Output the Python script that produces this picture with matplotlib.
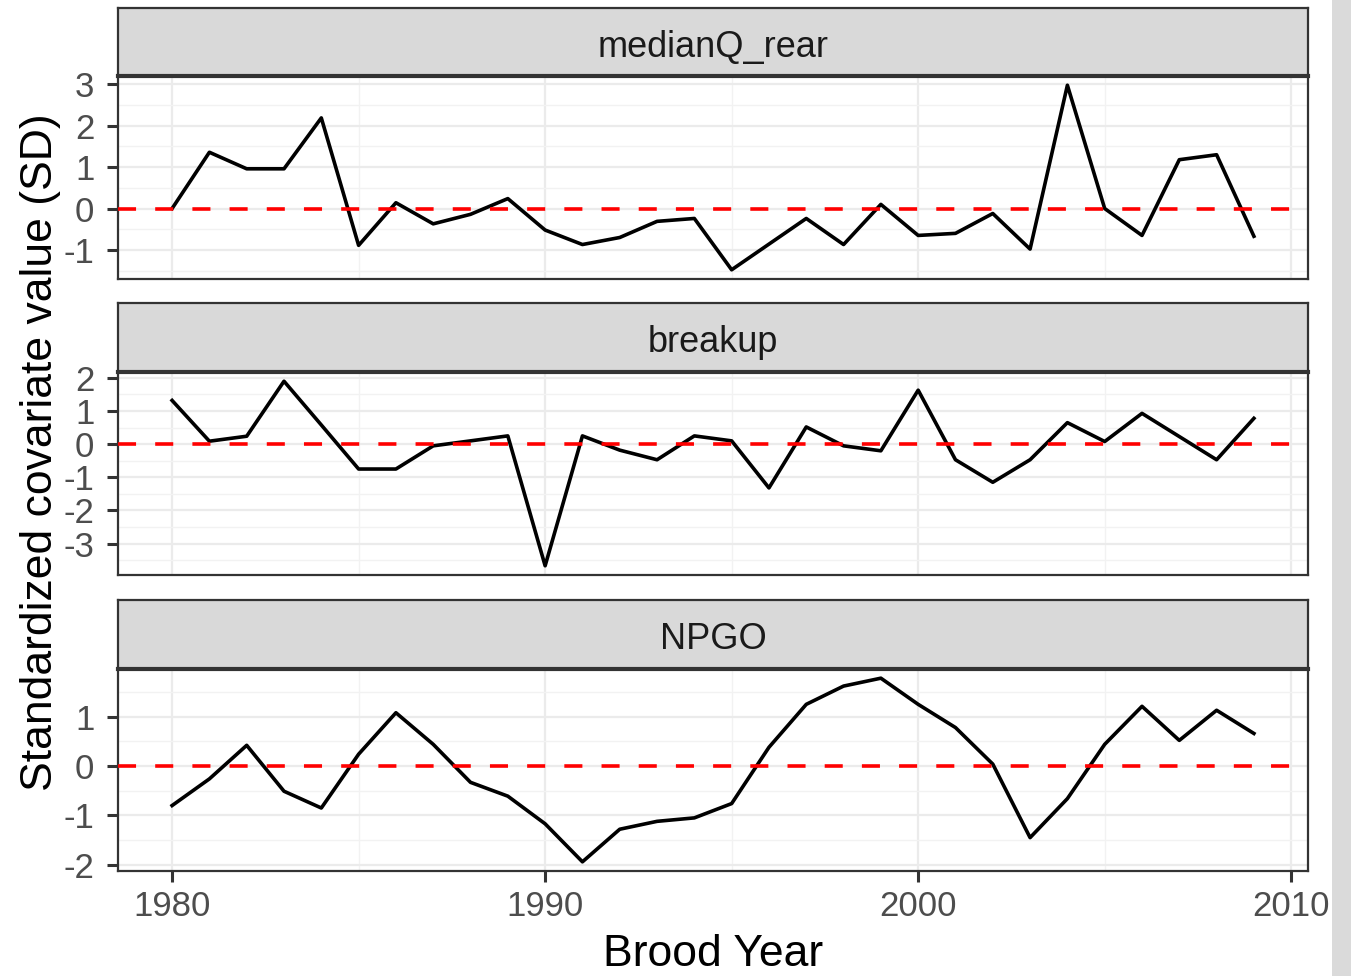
import numpy as np
import matplotlib.pyplot as plt
from matplotlib.patches import Rectangle

plt.rcParams['font.family'] = ['Liberation Sans', 'DejaVu Sans']
plt.rcParams['axes.unicode_minus'] = False

years = np.arange(1980, 2010)

# standardized covariates, one value per brood year
medianQ_rear = [0.0, 1.36, 0.96, 0.96, 2.19, -0.89, 0.14, -0.37, -0.14, 0.24,
                -0.52, -0.87, -0.70, -0.31, -0.24, -1.48, -0.86, -0.24, -0.87, 0.10,
                -0.65, -0.60, -0.12, -0.98, 2.98, 0.0, -0.65, 1.18, 1.30, -0.67]
breakup = [1.32, 0.09, 0.24, 1.90, 0.58, -0.75, -0.75, -0.05, 0.10, 0.25,
           -3.67, 0.25, -0.18, -0.47, 0.25, 0.10, -1.32, 0.52, -0.05, -0.20,
           1.63, -0.47, -1.15, -0.47, 0.65, 0.08, 0.93, 0.23, -0.47, 0.78]
NPGO = [-0.80, -0.26, 0.42, -0.51, -0.85, 0.24, 1.08, 0.44, -0.33, -0.61,
        -1.17, -1.94, -1.28, -1.12, -1.05, -0.76, 0.38, 1.25, 1.62, 1.78,
        1.25, 0.78, 0.04, -1.45, -0.66, 0.44, 1.21, 0.52, 1.13, 0.66]

panels = ["medianQ_rear", "breakup", "NPGO"]
series = [medianQ_rear, breakup, NPGO]
yticks = [[-1, 0, 1, 2, 3], [-3, -2, -1, 0, 1, 2], [-2, -1, 0, 1]]
xticks = [1980, 1990, 2000, 2010]

W, H = 1351, 976
fig = plt.figure(figsize=(W / 100, H / 100), dpi=100)
fig.patches.append(Rectangle((1332 / W, 0), (W - 1332) / W, 1, transform=fig.transFigure,
                             facecolor='#DADADA', edgecolor='none', zorder=0))

# pixel rows: (strip top, panel top, panel bottom)
rows = [(8, 76, 279), (303, 372, 575), (600, 669, 871)]
left, right = 118 / W, 1308 / W

dark = '#333333'
for i, (name, vals, yt) in enumerate(zip(panels, series, yticks)):
    st, pt, pb = rows[i]
    ax = fig.add_axes([left, 1 - pb / H, right - left, (pb - pt) / H])
    ax.plot(years, vals, color='black', lw=2.6, zorder=3)
    ax.axhline(0, color='red', lw=2.6, ls=(0, (5, 5.3)), zorder=4)

    ax.set_yticks(yt)
    ax.set_yticks(np.arange(yt[0] - 0.5, yt[-1] + 1, 1.0), minor=True)
    ax.set_xticks(xticks)
    ax.set_xticks([1985, 1995, 2005], minor=True)

    lo, hi = min(vals), max(vals)
    pad = (hi - lo) * 0.05
    ax.set_ylim(lo - pad, hi + pad)
    ax.set_xlim(1980 - 29 * 0.05, 2009 + 29 * 0.05)

    ax.grid(which='major', color='#EBEBEB', lw=1.6)
    ax.grid(which='minor', color='#F2F2F2', lw=1.0)
    ax.set_axisbelow(True)
    ax.tick_params(which='minor', length=0)
    ax.tick_params(which='major', length=8, width=2.2, color=dark,
                   labelsize=25, labelcolor='#4D4D4D')
    ax.tick_params(axis='y', pad=9)
    ax.tick_params(axis='x', pad=6)
    for s in ax.spines.values():
        s.set_color(dark)
        s.set_linewidth(1.6)
    if i < 2:
        ax.tick_params(axis='x', labelbottom=False, length=0)

    # facet strip
    sax = fig.add_axes([left, 1 - pt / H, right - left, (pt - st) / H])
    sax.set_facecolor('#D9D9D9')
    sax.set_xticks([])
    sax.set_yticks([])
    for s in sax.spines.values():
        s.set_color(dark)
        s.set_linewidth(1.6)
    sax.spines['bottom'].set_linewidth(3)
    sax.text(0.5, 0.48, name, ha='center', va='center_baseline', fontsize=26,
             color='#1A1A1A', transform=sax.transAxes)

fig.text((left + right) / 2, 1 - 966 / H, "Brood Year", ha='center', va='baseline',
         fontsize=32, color='black')
fig.text(0.015, 0.537, "Standardized covariate value (SD)", rotation=90,
         ha='left', va='center', fontsize=32, color='black')

fig.savefig('out.png', dpi=100, facecolor='white')
